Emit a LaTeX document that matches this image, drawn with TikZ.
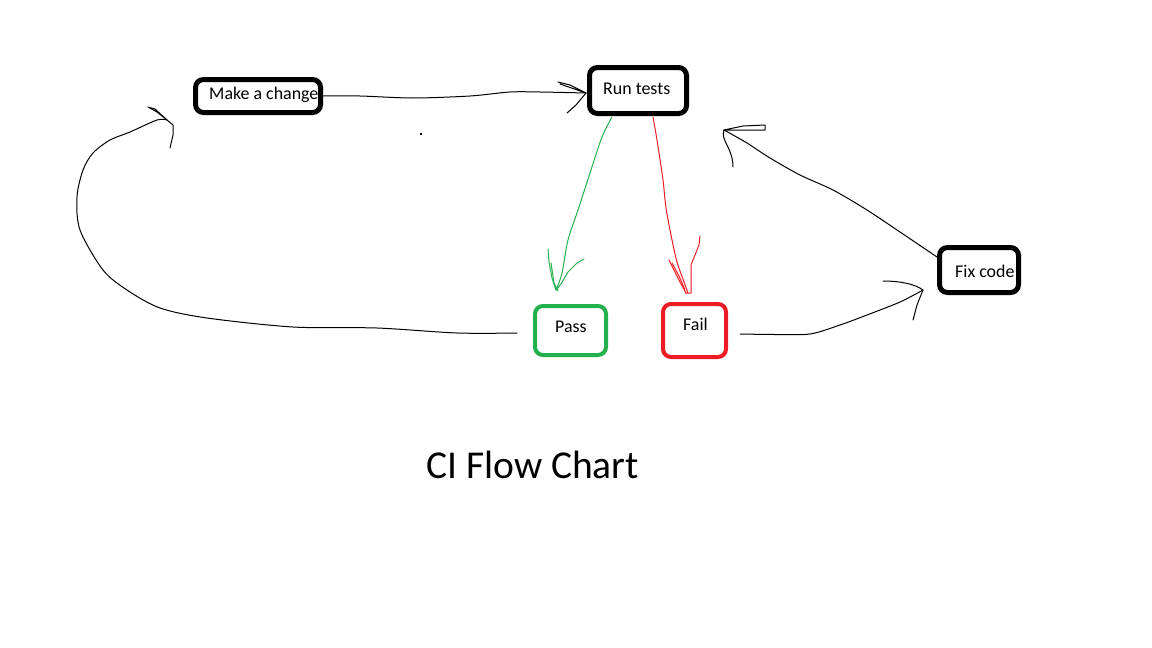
\documentclass[tikz,border=0pt]{standalone}
\usepackage{fontspec}
\setmainfont{Carlito}
\definecolor{pgreen}{RGB}{34,177,76}
\definecolor{pred}{RGB}{237,28,36}
\tikzset{
  box/.style={draw, rounded corners=8pt, line width=5pt, inner sep=0pt},
  lbl/.style={anchor=base west, inner sep=0pt, font=\fontsize{17.9}{20}\selectfont},
  hand/.style={line width=1pt, line join=round, line cap=round},
}
\begin{document}
\begin{tikzpicture}[x=1pt,y=-1pt]
\useasboundingbox (0,0) rectangle (1152,648);
\fill[white] (0,0) rectangle (1152,648);
% boxes
\node[box, minimum width=125pt, minimum height=33pt] (mk) at (258,96) {};
\node[box, minimum width=97pt, minimum height=46pt] (rt) at (638,90.5) {};
\node[box, draw=pgreen, line width=4pt, minimum width=71pt, minimum height=49pt] (pass) at (570.5,330.5) {};
\node[box, draw=pred, line width=4pt, minimum width=63pt, minimum height=53pt] (fail) at (694.5,330.5) {};
\node[box, minimum width=79pt, minimum height=45pt] (fix) at (979,270) {};
% labels
\node[lbl] (mkt) at (209,99) {Make a change};
\node[lbl] (rtt) at (603,94) {Run tests};
\node[lbl] (passt) at (555,332) {Pass};
\node[lbl] (failt) at (683,330) {Fail};
\node[lbl] (fixt) at (955,277) {Fix code};
\node[anchor=base west, inner sep=0pt, font=\fontsize{39.5}{44}\selectfont] (title) at (426,478) {CI Flow Chart};
% named ends
\coordinate (a1) at (586,93);
\coordinate (g0) at (612,117);
\coordinate (g1) at (556,290);
\coordinate (r0) at (653,117);
\coordinate (r1) at (688,293);
\coordinate (f0) at (740,334);
\coordinate (f1) at (923,290);
\coordinate (x0) at (937,257);
\coordinate (x1) at (724,130);
\coordinate (p0) at (517,333);
\coordinate (p1) at (167,120);
% make a change -> run tests
\draw[hand] plot[smooth] coordinates {(mk.east) (360,96) (413,98) (470,96) (510,92) (540,92) (a1)};
\draw[hand] (558,82) -- (570,85) -- (a1) -- (560,84);
\draw[hand] (567,113) -- (576,105) -- (a1);
% run tests -> pass
\draw[hand, pgreen] plot[smooth] coordinates {(g0) (602,137) (590,173) (578,210) (568,240) (562,273) (g1)};
\draw[hand, pgreen] (548,249) -- (549,262) -- (552,278) -- (g1);
\draw[hand, pgreen] (551,263) -- (554,283) -- (558,291);
\draw[hand, pgreen] (584,259) -- (577,263) -- (568,272) -- (561,284) -- (g1);
% run tests -> fail
\draw[hand, pred] plot[smooth] coordinates {(r0) (657,140) (663,180) (666,208) (672,240) (677,262) (684,282) (r1)};
\draw[hand, pred] (669,260) -- (674,270) -- (680,282) -- (686,293);
\draw[hand, pred] (672,263) -- (679,276) -- (685,290);
\draw[hand, pred] (700,236) -- (699,245) -- (691,265) -- (691,293) -- (685,293);
% fail -> fix code
\draw[hand] plot[smooth] coordinates {(f0) (775,334.5) (810,334) (840,325) (867,315) (900,302) (f1)};
\draw[hand] (883,281) .. controls (900,281) and (915,284) .. (f1);
\draw[hand] (913,320) -- (917,305) -- (f1);
% fix code -> run tests
\draw[hand] plot[smooth] coordinates {(x0) (900,232) (867,210) (833,190) (800,175) (770,158) (747,143) (x1)};
\draw[hand] (x1) -- (743,126) -- (765,125) -- (765,130) -- (x1);
\draw[hand] (x1) .. controls (720,140) and (733,148) .. (733,167);
% pass -> make a change
\draw[hand] plot[smooth] coordinates {(p0) (457,333) (377,328) (293,327) (207,318) (160,308) (127,290) (103,270) (80,230) (77,197) (83,170) (93,153) (110,140) (130,132) (157,120) (p1)};
\draw[hand] (p1) -- (155,109) -- (148,107) -- (157,112) -- (p1);
\draw[hand] (p1) -- (173,125) -- (173,135) -- (170,148);
% stray dot
\fill (420,133) rectangle (422,135);
\end{tikzpicture}
\end{document}
